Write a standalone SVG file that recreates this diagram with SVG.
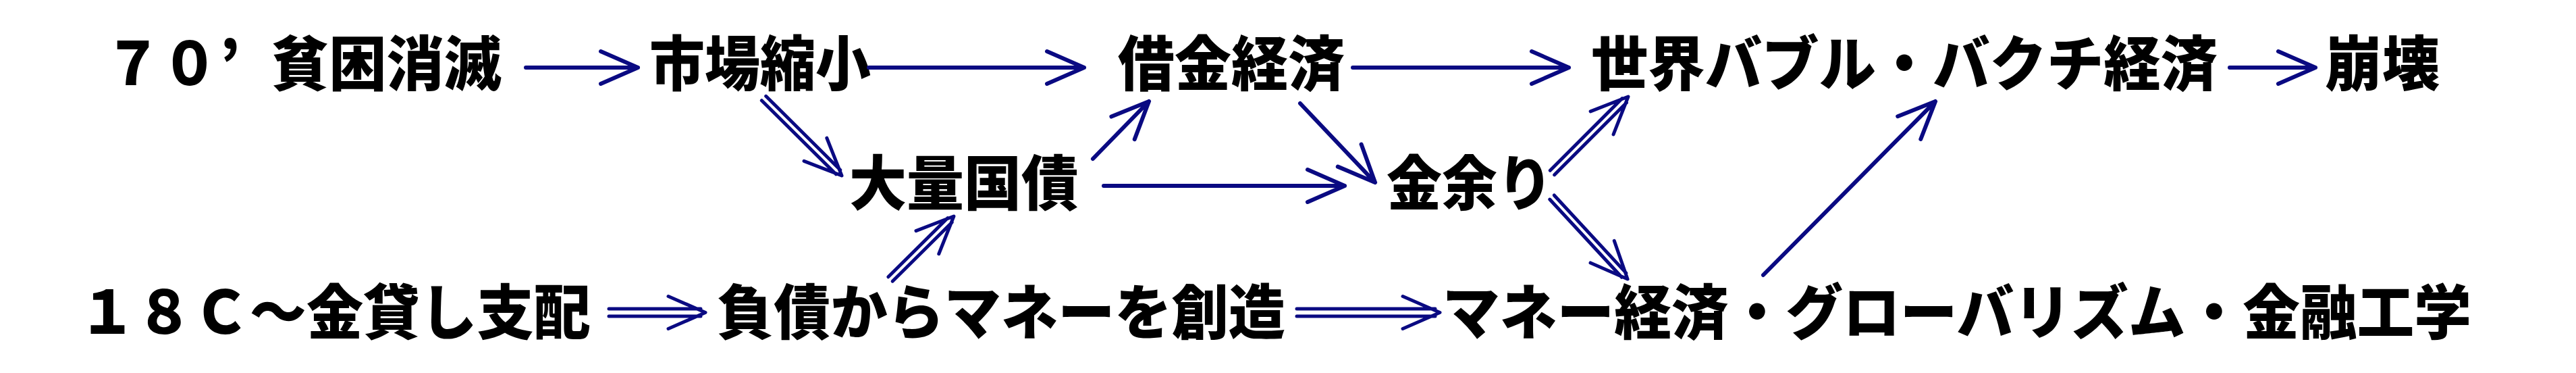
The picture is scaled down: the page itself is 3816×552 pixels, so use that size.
<svg xmlns="http://www.w3.org/2000/svg" width="3816" height="552" viewBox="0 0 3816 552">
<defs>
<style>
.t{font-family:"Noto Sans CJK JP","Liberation Sans",sans-serif;font-weight:900;font-size:88px;fill:#000}
.c{fill:none;stroke:#0a0a82;stroke-linecap:round;stroke-linejoin:round}
.s{stroke-width:6}
.d{stroke-width:5}
</style>
</defs>
<rect width="3816" height="552" fill="#fff"/>
<g id="n1"><text class="t" x="155" y="126" textLength="168" lengthAdjust="spacingAndGlyphs">７０</text><text class="t" x="325" y="126">’</text><text class="t" x="402" y="126" textLength="341" lengthAdjust="spacingAndGlyphs">貧困消滅</text></g>
<g id="n2"><text class="t" x="962" y="126" textLength="328" lengthAdjust="spacingAndGlyphs">市場縮小</text></g>
<g id="n3"><text class="t" x="1656" y="126" textLength="336" lengthAdjust="spacingAndGlyphs">借金経済</text></g>
<g id="n4"><text class="t" x="2357" y="126" textLength="928" lengthAdjust="spacingAndGlyphs">世界バブル・バクチ経済</text></g>
<g id="n5"><text class="t" x="3444" y="126" textLength="170" lengthAdjust="spacingAndGlyphs">崩壊</text></g>
<g id="n6"><text class="t" x="1258" y="303" textLength="340" lengthAdjust="spacingAndGlyphs">大量国債</text></g>
<g id="n7"><text class="t" x="2054" y="303" textLength="246" lengthAdjust="spacingAndGlyphs">金余り</text></g>
<g id="n8"><text class="t" x="117" y="494" textLength="758" lengthAdjust="spacingAndGlyphs">１８Ｃ～金貸し支配</text></g>
<g id="n9"><text class="t" x="1062" y="494" textLength="842" lengthAdjust="spacingAndGlyphs">負債からマネーを創造</text></g>
<g id="n10"><text class="t" x="2137" y="494" textLength="1524" lengthAdjust="spacingAndGlyphs">マネー経済・グローバリズム・金融工学</text></g>
<g id="connectors">
<g class="c s" transform="translate(779,100)"><path d="M0,0H166M111,-24L166,0L111,24"/></g>
<g class="c s" transform="translate(1287,100)"><path d="M0,0H319M264,-24L319,0L264,24"/></g>
<g class="c s" transform="translate(2004,100)"><path d="M0,0H320M265,-24L320,0L265,24"/></g>
<g class="c s" transform="translate(3303,100)"><path d="M0,0H127M72,-24L127,0L72,24"/></g>
<g class="c s" transform="translate(1635,275)"><path d="M0,0H357M302,-24L357,0L302,24"/></g>
<g class="c d" transform="translate(902,462.5)"><path d="M0,-5.5H136M0,5.5H136M88,-24L143,0L88,24"/></g>
<g class="c d" transform="translate(1921,462.5)"><path d="M0,-5.5H205M0,5.5H205M157,-24L212,0L157,24"/></g>
<g class="c s" transform="translate(1619,235) rotate(-45.68)"><path d="M0,0H118.8M63.8,-24L118.8,0L63.8,24"/></g>
<g class="c s" transform="translate(1926,153) rotate(46.5)"><path d="M0,0H161.3M106.3,-24L161.3,0L106.3,24"/></g>
<g class="c s" transform="translate(2612,407) rotate(-45.22)"><path d="M0,0H362M307,-24L362,0L307,24"/></g>
<g class="c d" transform="translate(1131.5,145.5) rotate(44.75)"><path d="M0,-4.5H155M0,4.5H155M107.6,-24L162.6,0L107.6,24"/></g>
<g class="c d" transform="translate(2299.5,255.5) rotate(-45)"><path d="M0,-4.5H151M0,4.5H151M104.1,-24L159.1,0L104.1,24"/></g>
<g class="c d" transform="translate(1319,413) rotate(-44.7)"><path d="M0,-4.5H124M0,4.5H124M77.2,-24L132.2,0L77.2,24"/></g>
<g class="c d" transform="translate(2299,292) rotate(47.2)"><path d="M0,-4.5H157M0,4.5H157M109.9,-24L164.9,0L109.9,24"/></g>
</g>
</svg>
